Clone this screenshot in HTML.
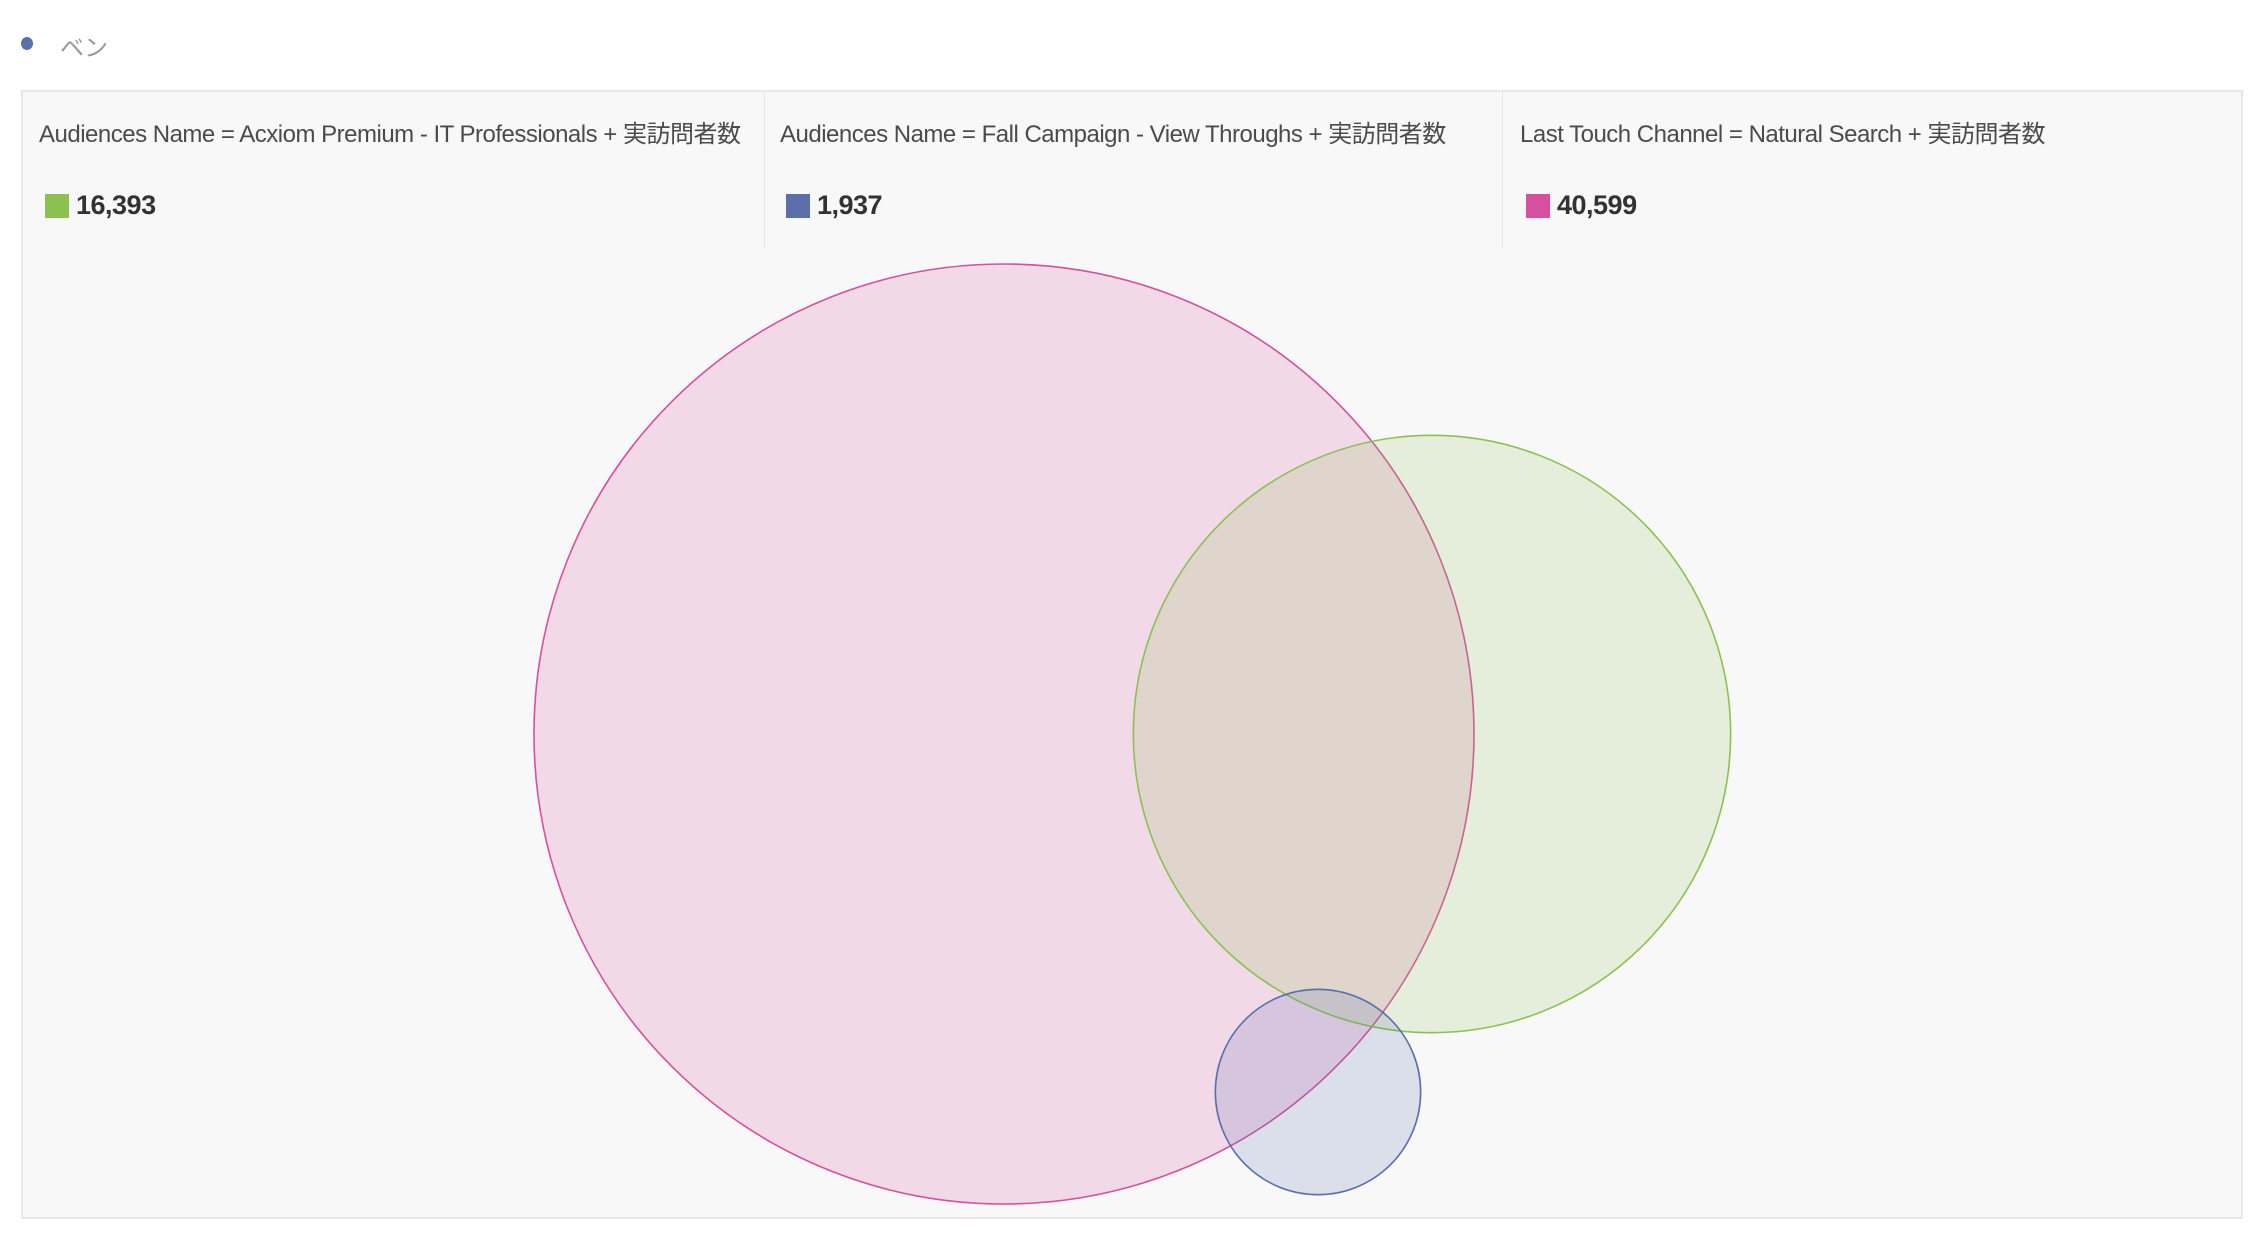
<!DOCTYPE html>
<html><head><meta charset="utf-8"><style>
body{margin:0;width:2265px;height:1242px;background:#fff;font-family:"Liberation Sans","Noto Sans CJK JP",sans-serif;position:relative;overflow:hidden}
.abs{position:absolute}
.title{font-size:24px;color:#4b4b4b;white-space:nowrap;letter-spacing:-0.5px}
.val{font-size:27px;font-weight:bold;color:#323232;letter-spacing:-0.5px}
.sw{width:24px;height:24px}
</style></head><body>
<div class="abs" style="left:21px;top:37px;width:12px;height:13px;border-radius:50%;background:#5b6fab"></div>
<div class="abs" style="left:60px;top:28px;font-size:24px;color:#9a9a9a">ベン</div>
<div class="abs" style="left:21px;top:90px;width:2222px;height:1129px;background:#f8f8f8;border:2px solid #e8e8e8;box-sizing:border-box"></div>
<div class="abs" style="left:764px;top:92px;width:1px;height:156px;background:#e6e6e6"></div>
<div class="abs" style="left:1502px;top:92px;width:1px;height:156px;background:#e6e6e6"></div>
<div id="hdr"></div>
<svg class="abs" style="left:0;top:0" width="2265" height="1242" id="venn"></svg>
<script>
const labels=["Audiences Name = Acxiom Premium - IT Professionals + 実訪問者数","Audiences Name = Fall Campaign - View Throughs + 実訪問者数","Last Touch Channel = Natural Search + 実訪問者数"];
const values=[16393,1937,40599];
const colors=["#8cc152","#5a6fab","#d6509f"];
const fills=["rgba(140,193,82,0.18)","rgba(90,111,171,0.18)","rgba(214,80,159,0.18)"];
const headerX=[40,781,1521];
const centers=[[1432,734],[1318,1092],[1004,734]];
const hdr=document.getElementById('hdr');
const k=470/Math.sqrt(Math.max(...values));
const names=["acxiom","fall-campaign","natural-search"];
values.forEach((v,i)=>{
  const t=document.createElement('div');t.className='abs title';t.style.left=(headerX[i]-1)+'px';t.style.top='114px';t.textContent=labels[i];
  
  
  hdr.appendChild(t);
  const s=document.createElement('div');s.className='abs sw';s.style.left=(headerX[i]+5)+'px';s.style.top='194px';s.style.background=colors[i];
  
  
  hdr.appendChild(s);
  const n=document.createElement('div');n.className='abs val';n.style.left=(headerX[i]+36)+'px';n.style.top='190px';n.textContent=v.toLocaleString('en-US');
  
  
  hdr.appendChild(n);
});
const svg=document.getElementById('venn');
[2,0,1].forEach(i=>{
  const c=document.createElementNS('http://www.w3.org/2000/svg','circle');
  c.setAttribute('cx',centers[i][0]);c.setAttribute('cy',centers[i][1]);
  c.setAttribute('r',k*Math.sqrt(values[i]));
  c.setAttribute('fill',fills[i]);c.setAttribute('stroke',colors[i]);c.setAttribute('stroke-width','1.6');
  
  
  svg.appendChild(c);
});
</script>
</body></html>
